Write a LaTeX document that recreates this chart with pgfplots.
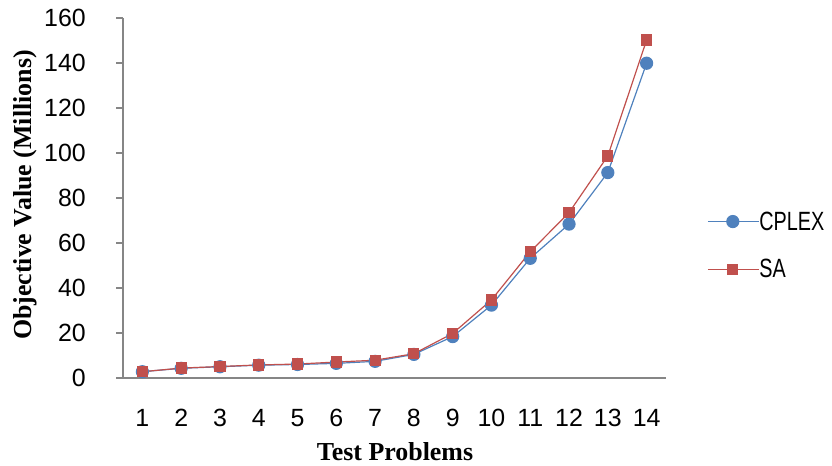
\documentclass[border=0pt]{standalone}
\usepackage{pgfplots}
\pgfplotsset{compat=1.18}
\usepackage{fontspec}
\setmainfont{Liberation Serif}
\newfontfamily\tickfont{Liberation Sans}
\newfontfamily\legfont[FakeStretch=0.75]{Liberation Sans}
\definecolor{cblue}{HTML}{4F81BD}
\definecolor{cred}{HTML}{C0504D}
\definecolor{axgray}{HTML}{868686}
\begin{document}
\begin{tikzpicture}
\useasboundingbox (0,0) rectangle (832bp,466bp);
\begin{axis}[
  at={(123bp,88bp)}, anchor=south west,
  scale only axis, width=543bp, height=360bp,
  xmin=0.5, xmax=14.5, ymin=0, ymax=160,
  axis lines*=left,
  axis line style={axgray, line width=1.5bp, -},
  clip=false,
  xtick={1,...,14},
  minor xtick={0.5,1.5,...,14.5},
  ytick={0,20,...,160},
  tick align=outside,
  major tick length=7bp,
  minor tick length=7bp,
  every tick/.style={axgray, line width=1.5bp},
  x tick style={draw=none},
  minor x tick style={axgray, line width=1.5bp},
  /pgf/number format/assume math mode=true,
  ticklabel style={font=\tickfont\fontsize{25}{28}\selectfont, text=black},
  yticklabel style={inner sep=0pt, anchor=east, xshift=-30bp},
  xticklabel style={inner sep=0pt, anchor=north, yshift=-24bp},
  xlabel={\textbf{Test Problems}},
  ylabel={\textbf{Objective Value (Millions)}},
  label style={font=\fontsize{26}{30}\selectfont},
  xlabel style={at={(rel axis cs:0.501,-0.2056)}, anchor=center},
  ylabel style={at={(rel axis cs:-0.1805,0.508)}, anchor=center},
  legend style={at={(rel axis cs:1.0755,0.368)}, anchor=west, draw=none, fill=none,
    inner sep=0pt, font=\legfont\fontsize{26.5}{30}\selectfont,
    nodes={inner sep=0pt}, row sep=28bp},
  legend cell align=left,
  /tikz/every even column/.append style={column sep=5bp},
  legend image code/.code={
    \draw[mark repeat=2,mark phase=2] plot coordinates {(0bp,0bp) (25bp,0bp) (51bp,0bp)};
  },
]
\addplot[cblue, line width=1.2bp, mark=*, mark size=6bp, mark options={fill=cblue, draw=cblue}] coordinates {
(1,2.8) (2,4.3) (3,5.0) (4,5.7) (5,6.0) (6,6.5) (7,7.4) (8,10.5) (9,18.4) (10,32.4) (11,53.2) (12,68.4) (13,91.3) (14,139.9)};
\addlegendentry{CPLEX}
\addplot[cred, line width=1.2bp, mark=square*, mark size=5bp, mark options={fill=cred, draw=cred}] coordinates {
(1,2.8) (2,4.4) (3,5.1) (4,5.8) (5,6.2) (6,7.1) (7,7.9) (8,10.8) (9,19.8) (10,34.7) (11,56.1) (12,73.5) (13,98.7) (14,150.2)};
\addlegendentry{SA}
\end{axis}
\end{tikzpicture}
\end{document}
